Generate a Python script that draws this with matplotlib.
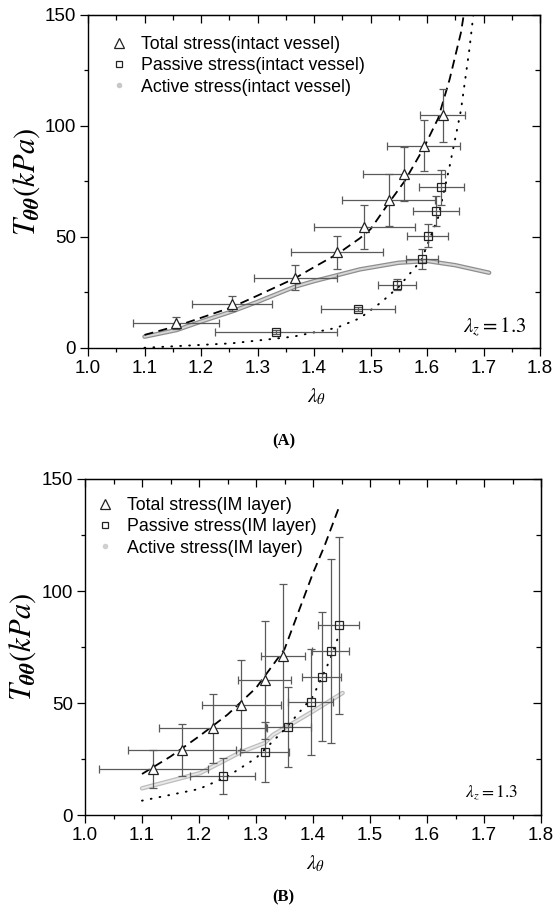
import matplotlib
matplotlib.use('Agg')
import matplotlib.pyplot as plt
from matplotlib.lines import Line2D
from matplotlib.ticker import MultipleLocator, FormatStrFormatter

plt.rcParams['font.family'] = ['Liberation Sans', 'DejaVu Sans']
plt.rcParams['mathtext.fontset'] = 'stix'

# ---- panel A : intact vessel ----
a_tot_x = [1.155, 1.255, 1.367, 1.441, 1.489, 1.532, 1.559, 1.594, 1.628]
a_tot_y = [11.3, 20.0, 31.6, 43.1, 54.5, 66.7, 78.3, 91.1, 104.8]
a_tot_xerr = [0.076, 0.071, 0.073, 0.081, 0.089, 0.082, 0.072, 0.065, 0.040]
a_tot_yerr = [2.7, 3.2, 5.6, 7.5, 9.9, 11.7, 12.2, 11.4, 12.0]

a_pas_x = [1.333, 1.478, 1.547, 1.591, 1.601, 1.616, 1.625]
a_pas_y = [7.1, 17.6, 28.6, 40.1, 50.6, 61.7, 72.4]
a_pas_xerr = [0.108, 0.065, 0.034, 0.028, 0.036, 0.041, 0.040]
a_pas_yerr = [1.0, 1.0, 2.4, 4.5, 5.3, 6.8, 8.0]

a_totfit_x = [1.10, 1.157, 1.20, 1.254, 1.30, 1.366, 1.40, 1.443, 1.481, 1.50, 1.532, 1.56, 1.594, 1.62, 1.64, 1.66, 1.665]
a_totfit_y = [5.9, 9.9, 13.6, 18.3, 23.6, 31.4, 36.4, 42.6, 49.4, 53.5, 65.2, 75.0, 90.0, 103.6, 121.0, 142.0, 150.0]

a_pasfit_x = [1.10, 1.254, 1.363, 1.440, 1.481, 1.52, 1.55, 1.59, 1.62, 1.64, 1.66, 1.675, 1.682]
a_pasfit_y = [0.1, 2.1, 5.1, 9.1, 13.4, 20.8, 27.6, 39.6, 59.0, 81.8, 107.0, 134.5, 150.0]

a_act_x = [1.10, 1.157, 1.20, 1.254, 1.30, 1.366, 1.40, 1.481, 1.55, 1.60, 1.65, 1.71]
a_act_y = [5.1, 8.1, 11.9, 16.4, 20.8, 27.6, 30.1, 35.4, 38.4, 39.2, 37.3, 33.9]

# ---- panel B : IM layer ----
b_tot_x = [1.120, 1.170, 1.224, 1.274, 1.315, 1.347]
b_tot_y = [20.5, 29.0, 38.7, 49.1, 60.3, 71.2]
b_tot_xerr = [0.096, 0.095, 0.095, 0.069, 0.046, 0.039]
b_tot_yerr = [8.6, 11.8, 15.3, 20.0, 26.3, 31.8]

b_pas_x = [1.242, 1.315, 1.357, 1.396, 1.415, 1.431, 1.445]
b_pas_y = [17.5, 28.1, 39.3, 50.6, 61.8, 73.1, 84.6]
b_pas_xerr = [0.057, 0.043, 0.039, 0.039, 0.034, 0.033, 0.036]
b_pas_yerr = [8.0, 13.3, 18.0, 23.6, 28.8, 41.0, 39.4]

b_totfit_x = [1.10, 1.15, 1.20, 1.25, 1.30, 1.35, 1.40, 1.42, 1.445]
b_totfit_y = [18.3, 26.1, 35.1, 44.8, 56.7, 74.0, 108.0, 120.0, 137.0]

b_pasfit_x = [1.10, 1.15, 1.20, 1.25, 1.30, 1.35, 1.40, 1.43, 1.445]
b_pasfit_y = [6.4, 9.0, 11.6, 17.2, 25.4, 38.1, 53.0, 69.4, 80.0]

b_act_x = [1.10, 1.202, 1.272, 1.315, 1.33, 1.40, 1.452]
b_act_y = [11.9, 18.7, 27.9, 32.1, 35.8, 46.3, 54.5]

xticks = [1.0, 1.1, 1.2, 1.3, 1.4, 1.5, 1.6, 1.7, 1.8]
yticks = [0, 50, 100, 150]

fig = plt.figure(figsize=(5.53, 9.15), dpi=100)
axA = fig.add_axes([88/553, 1-348/915, 452/553, 333/915])
axB = fig.add_axes([85/553, 1-815/915, 456/553, 336/915])


def style_axes(ax):
    ax.set_xlim(1.0, 1.8)
    ax.set_ylim(0, 150)
    ax.set_xticks(xticks)
    ax.set_yticks(yticks)
    ax.xaxis.set_minor_locator(MultipleLocator(0.05))
    ax.yaxis.set_minor_locator(MultipleLocator(25))
    ax.xaxis.set_major_formatter(FormatStrFormatter('%.1f'))
    ax.tick_params(which='both', direction='out', top=False, right=False, width=0.9, labelsize=13.5, pad=3)
    ax.tick_params(which='major', length=5.5)
    ax.tick_params(which='minor', length=3)
    for s in ax.spines.values():
        s.set_linewidth(1.0)
    # inward ticks on top/right like the original
    sx = ax.secondary_xaxis('top')
    sx.set_xticks(xticks)
    sx.xaxis.set_minor_locator(MultipleLocator(0.05))
    sx.tick_params(which='both', direction='in', labeltop=False, width=0.9)
    sx.tick_params(which='major', length=6)
    sx.tick_params(which='minor', length=3.5)
    sy = ax.secondary_yaxis('right')
    sy.set_yticks(yticks)
    sy.yaxis.set_minor_locator(MultipleLocator(25))
    sy.tick_params(which='both', direction='in', labelright=False, width=0.9)
    sy.tick_params(which='major', length=6)
    sy.tick_params(which='minor', length=3.5)
    ax.set_ylabel(r'$T_{\boldsymbol{\theta\theta}}(kPa)$', fontsize=22)
    ax.yaxis.set_label_coords(-0.102, 0.5)
    ax.set_xlabel(r'$\lambda_\theta$', fontsize=15)
    ax.xaxis.set_label_coords(0.505, -0.115)


def draw(ax, tx, ty, txe, tye, px, py, pxe, pye, tfx, tfy, pfx, pfy, acx, acy, act_dark, act_light):
    ax.plot(acx, acy, color=act_dark, lw=3.2, solid_capstyle='round', zorder=2)
    ax.plot(acx, acy, color=act_light, lw=1.4, solid_capstyle='round', zorder=2.1)
    ax.plot(tfx, tfy, color='black', lw=1.3, dashes=(5, 3), zorder=3)
    ax.plot(pfx, pfy, color='black', lw=1.4, linestyle=(0, (0.4, 4.2)), dash_capstyle='round', zorder=3)
    ax.errorbar(tx, ty, xerr=txe, yerr=tye, fmt='none', ecolor='#5a5a5a', elinewidth=0.9, capsize=3, capthick=0.9, zorder=4)
    ax.errorbar(px, py, xerr=pxe, yerr=pye, fmt='none', ecolor='#5a5a5a', elinewidth=0.9, capsize=3, capthick=0.9, zorder=4)
    ax.plot(tx, ty, linestyle='none', marker='^', ms=7.5, mfc='white', mec='#222222', mew=0.9, zorder=5)
    ax.plot(px, py, linestyle='none', marker='s', ms=5.5, mfc='none', mec='#222222', mew=0.9, zorder=5)


style_axes(axA)
style_axes(axB)

draw(axA, a_tot_x, a_tot_y, a_tot_xerr, a_tot_yerr, a_pas_x, a_pas_y, a_pas_xerr, a_pas_yerr,
     a_totfit_x, a_totfit_y, a_pasfit_x, a_pasfit_y, a_act_x, a_act_y, '#8e8e8e', '#d6d6d6')
draw(axB, b_tot_x, b_tot_y, b_tot_xerr, b_tot_yerr, b_pas_x, b_pas_y, b_pas_xerr, b_pas_yerr,
     b_totfit_x, b_totfit_y, b_pasfit_x, b_pasfit_y, b_act_x, b_act_y, '#bdbdbd', '#e8e8e8')


def legend(ax, labels, anchor, act_col):
    handles = [
        Line2D([], [], linestyle='none', marker='^', ms=7, mfc='white', mec='#222222', mew=0.9),
        Line2D([], [], linestyle='none', marker='s', ms=5, mfc='white', mec='#222222', mew=0.9),
        Line2D([], [], linestyle='none', marker='o', ms=3, mfc=act_col, mec=act_col),
    ]
    ax.legend(handles, labels, loc='upper left', bbox_to_anchor=anchor, frameon=False,
              fontsize=12.8, handlelength=1.0, handletextpad=0.75, labelspacing=0.24,
              borderpad=0, borderaxespad=0)


legend(axA, ['Total stress(intact vessel)', 'Passive stress(intact vessel)', 'Active stress(intact vessel)'],
       (0.049, 0.937), '#c8c8c8')
legend(axB, ['Total stress(IM layer)', 'Passive stress(IM layer)', 'Active stress(IM layer)'],
       (0.024, 0.946), '#d0d0d0')

axA.text(0.969, 0.063, r'$\lambda_z=1.3$', transform=axA.transAxes, ha='right', va='center', fontsize=15)
axB.text(0.95, 0.065, r'$\lambda_z=1.3$', transform=axB.transAxes, ha='right', va='center', fontsize=12.5)

fig.text(284/553, 1-441/915, '(A)', ha='center', va='center', fontsize=12, fontweight='bold', family='Liberation Serif')
fig.text(283/553, 1-897/915, '(B)', ha='center', va='center', fontsize=12, fontweight='bold', family='Liberation Serif')

fig.savefig('out.png', dpi=100)
